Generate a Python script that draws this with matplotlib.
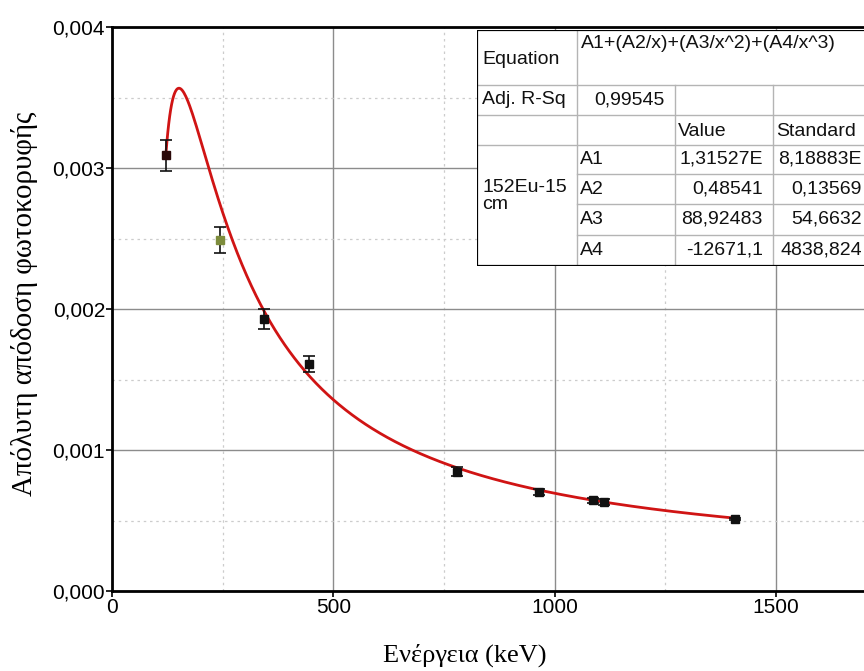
import numpy as np
import matplotlib
matplotlib.use('Agg')
import matplotlib.pyplot as plt
from matplotlib.ticker import FuncFormatter, MultipleLocator

# Data points (Eu-152 photopeaks, 15 cm)
energy = [121.8, 244.7, 344.3, 444.0, 778.9, 964.1, 1085.8, 1112.1, 1408.0]
efficiency = [0.00309, 0.00249, 0.00193, 0.00161, 0.000846, 0.000704, 0.000643, 0.000633, 0.000511]
eff_err = [0.00011, 0.00009, 0.00007, 0.00006, 0.00003, 0.00002, 0.00002, 0.00002, 0.00001]
point_colors = ['#2a0808', '#7d8c3c', '#111111', '#111111', '#111111', '#111111', '#111111', '#111111', '#111111']

# Fit parameters shown in the table: A1 + A2/x + A3/x^2 + A4/x^3
A1, A2, A3, A4 = 1.31527e-4, 0.48541, 88.92483, -12671.1

# Table contents
eq_text = 'A1+(A2/x)+(A3/x^2)+(A4/x^3)'
adj_r2 = '0,99545'
param_names = ['A1', 'A2', 'A3', 'A4']
param_values = ['1,31527E', '0,48541', '88,92483', '-12671,1']
param_errors = ['8,18883E', '0,13569', '54,6632', '4838,824']
dataset_name = '152Eu-15\ncm'

W, H = 864, 671
fig = plt.figure(figsize=(W / 100, H / 100), dpi=100)

# main axes (pixel box: left 112, top 27, bottom 591, runs off the right edge)
ax_w, ax_h = 760, 564
ax = fig.add_axes([112 / W, 1 - 591 / H, ax_w / W, ax_h / H])
ax.set_xlim(0, 1717)
ax.set_ylim(0, 0.004)

ax.xaxis.set_major_locator(MultipleLocator(500))
ax.xaxis.set_minor_locator(MultipleLocator(250))
ax.yaxis.set_major_locator(MultipleLocator(0.001))
ax.yaxis.set_minor_locator(MultipleLocator(0.0005))
ax.yaxis.set_major_formatter(FuncFormatter(lambda v, p: f'{v:.3f}'.replace('.', ',')))
ax.xaxis.set_major_formatter(FuncFormatter(lambda v, p: f'{v:.0f}'))

ax.grid(which='major', color='#8c8c8c', lw=1.0, ls='-')
ax.grid(which='minor', color='#cccccc', lw=0.9, ls=(0, (2, 3)))
ax.set_axisbelow(True)

for s in ['left', 'bottom', 'top']:
    ax.spines[s].set_linewidth(2)
    ax.spines[s].set_color('black')
ax.spines['right'].set_visible(False)

ax.tick_params(which='major', direction='out', length=4, width=1.2, labelsize=15, pad=1,
               labelfontfamily='Liberation Sans')
ax.tick_params(which='minor', length=0)

# fit curve from the table parameters
xf = np.linspace(min(energy), max(energy), 600)
yf = A1 + A2 / xf + A3 / xf**2 + A4 / xf**3
ax.plot(xf, yf, color='#d01414', lw=2.0, zorder=3)

for x, y, e, c in zip(energy, efficiency, eff_err, point_colors):
    ax.errorbar(x, y, yerr=e, fmt='s', color=c, ms=6, ecolor='#111111',
                elinewidth=1.2, capsize=4, capthick=1.2, zorder=4)

ax.set_xlabel('Ενέργεια (keV)', family='Liberation Serif', fontsize=19)
ax.xaxis.set_label_coords((465 - 112) / ax_w, -(644 - 591) / ax_h)
ax.set_ylabel('Απόλυτη απόδοση φωτοκορυφής', family='Liberation Serif', fontsize=20.8)
ax.yaxis.set_label_coords(-(112 - 25) / ax_w, 0.51)
ax.yaxis.label.set_verticalalignment('center')

# results table, drawn in pixel coordinates
tx0, ty0 = 477, 30
tab = fig.add_axes([tx0 / W, 1 - 266 / H, (W - tx0) / W, (266 - ty0) / H])
tab.set_xlim(tx0, W)
tab.set_ylim(266, ty0)
tab.axis('off')
tab.set_zorder(5)
tab.add_patch(plt.Rectangle((tx0, ty0), 400, 236, facecolor='white', edgecolor='none', zorder=0))

cols = [477, 577, 675, 773]
rows = [30, 85, 115, 145, 174, 204, 235, 266]
gray = '#b4b4b4'
right = 900

# horizontal lines
for r in rows[1:3]:
    tab.plot([cols[0], right], [r, r], color=gray, lw=1)
for r in rows[3:7]:
    tab.plot([cols[1] if r != rows[3] else cols[0], right], [r, r], color=gray, lw=1)
# vertical lines
tab.plot([cols[1], cols[1]], [rows[0], rows[-1]], color=gray, lw=1)
for c in cols[2:]:
    tab.plot([c, c], [rows[1], rows[-1]], color=gray, lw=1)
# outer border
tab.plot([cols[0], right], [rows[0], rows[0]], color='black', lw=1.6)
tab.plot([cols[0], right], [rows[-1], rows[-1]], color='black', lw=1.6)
tab.plot([cols[0], cols[0]], [rows[0], rows[-1]], color='black', lw=1.6)

fs = 14
tf = dict(fontsize=fs, family='Liberation Sans', color='#111111', va='center')
tab.text(cols[0] + 5, (rows[0] + rows[1]) / 2 + 2, 'Equation', ha='left', **tf)
tab.text(cols[1] + 4, rows[0] + 14, eq_text, ha='left', **tf)
tab.text(cols[0] + 5, (rows[1] + rows[2]) / 2, 'Adj. R-Sq', ha='left', **tf)
tab.text(cols[2] - 10, (rows[1] + rows[2]) / 2, adj_r2, ha='right', **tf)
tab.text(cols[2] + 3, (rows[2] + rows[3]) / 2 + 1, 'Value', ha='left', **tf)
tab.text(cols[3] + 3, (rows[2] + rows[3]) / 2 + 1, 'Standard', ha='left', **tf)
tab.text(cols[0] + 5, rows[4] + 5, dataset_name, ha='left', **{**tf, 'va': 'top', 'linespacing': 1.0})
for i, (n, v, e) in enumerate(zip(param_names, param_values, param_errors)):
    yc = (rows[3 + i] + rows[4 + i]) / 2
    tab.text(cols[1] + 3, yc, n, ha='left', **tf)
    tab.text(cols[3] - 10, yc, v, ha='right', **tf)
    tab.text(W - 2, yc, e, ha='right', **tf)

fig.savefig('out.png', dpi=100)
